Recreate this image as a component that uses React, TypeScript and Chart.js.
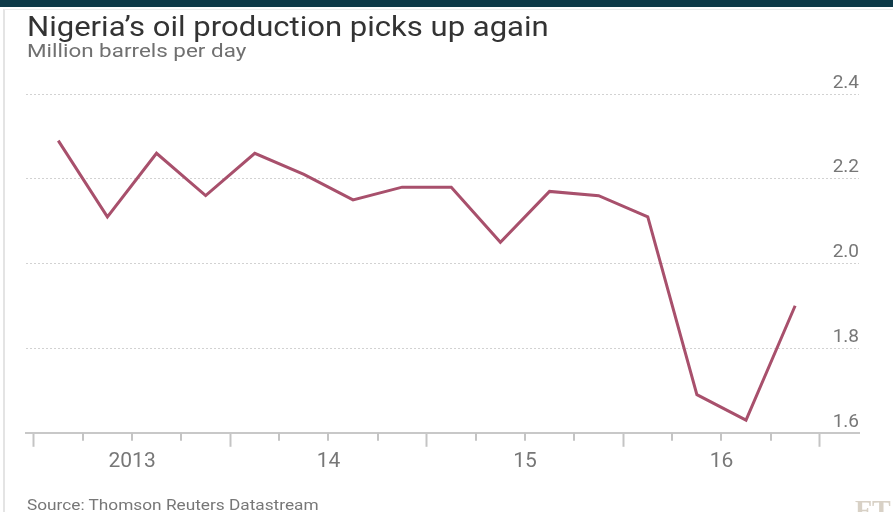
import React, { useEffect, useRef } from "react";
import { Chart, registerables } from "chart.js";

Chart.register(...registerables);

// ---- Data ----
const quarters = [
  "2013 Q1", "2013 Q2", "2013 Q3", "2013 Q4",
  "2014 Q1", "2014 Q2", "2014 Q3", "2014 Q4",
  "2015 Q1", "2015 Q2", "2015 Q3", "2015 Q4",
  "2016 Q1", "2016 Q2", "2016 Q3", "2016 Q4",
];
const production = [
  2.29, 2.11, 2.26, 2.16,
  2.26, 2.21, 2.15, 2.18,
  2.18, 2.05, 2.17, 2.16,
  2.11, 1.69, 1.63, 1.90,
];
const yearLabels = ["2013", "14", "15", "16"];
const yTickValues = [1.6, 1.8, 2.0, 2.2, 2.4];
const quarterBoundaries = [0, 1, 2, 3, 4, 5, 6, 7, 8, 9, 10, 11, 12, 13, 14, 15, 16];

const TITLE = "Nigeria\u2019s oil production picks up again";
const SUBTITLE = "Million barrels per day";
const SOURCE = "Source: Thomson Reuters Datastream";

const shortTicksPlugin = {
  id: "shortQuarterTicks",
  afterDraw(chart: any) {
    const xs = chart.scales.x;
    const ctx = chart.ctx;
    const top = chart.chartArea.bottom;
    ctx.save();
    ctx.strokeStyle = "#c4c4c4";
    ctx.lineWidth = 2;
    quarterBoundaries.forEach((q) => {
      if (q % 4 === 0) return;
      const px = Math.round(xs.getPixelForValue(q));
      ctx.beginPath();
      ctx.moveTo(px, top);
      ctx.lineTo(px, top + 8);
      ctx.stroke();
    });
    ctx.restore();
  },
};

export default function App() {
  const canvasRef = useRef<HTMLCanvasElement | null>(null);

  useEffect(() => {
    if (!canvasRef.current) return;
    const chart = new Chart(canvasRef.current, {
      type: "line",
      data: {
        labels: quarters,
        datasets: [
          {
            label: "Oil production",
            data: production.map((v, i) => ({ x: i + 0.5, y: v })),
            borderColor: "#a8506c",
            borderWidth: 3,
            pointRadius: 0,
            tension: 0,
            fill: false,
          },
        ],
      },
      options: {
        responsive: false,
        animation: false,
        events: [],
        layout: { padding: { left: 26, right: 34, top: 94, bottom: 36 } },
        plugins: {
          legend: { display: false },
          tooltip: { enabled: false },
          title: { display: false },
        },
        scales: {
          x: {
            type: "linear",
            min: -0.157,
            max: 16.8,
            afterBuildTicks: (scale: any) => {
              scale.ticks = quarterBoundaries.map((v) => ({ value: v }));
            },
            grid: {
              drawOnChartArea: false,
              drawTicks: true,
              tickLength: 14,
              tickWidth: 2,
              tickColor: (ctx: any) =>
                ctx.tick && ctx.tick.value % 4 === 0 ? "#c4c4c4" : "rgba(0,0,0,0)",
            },
            border: { display: true, color: "#c8c8c8", width: 2 },
            ticks: {
              autoSkip: false,
              maxRotation: 0,
              minRotation: 0,
              padding: 2,
              labelOffset: 98.4,
              color: "#777777",
              font: { family: "Roboto", size: 21 },
              callback: (value: any) => {
                const v = Number(value);
                const idx = v / 4;
                return v % 4 === 0 && idx < yearLabels.length ? yearLabels[idx] : "";
              },
            },
          },
          y: {
            type: "linear",
            position: "right",
            min: 1.6,
            max: 2.4,
            afterBuildTicks: (scale: any) => {
              scale.ticks = yTickValues.map((v) => ({ value: v }));
            },
            grid: {
              drawTicks: false,
              color: "#d2d2d2",
              lineWidth: 1,
            },
            border: { display: false, dash: [2, 2] },
            ticks: {
              mirror: true,
              padding: 0,
              labelOffset: -11,
              color: "#777777",
              font: { family: "Roboto", size: 19 },
              callback: (value: any) => Number(value).toFixed(1),
            },
          },
        },
      },
      plugins: [shortTicksPlugin],
    } as any);
    return () => chart.destroy();
  }, []);

  const stretched = (extra: React.CSSProperties, sx: number): React.CSSProperties => ({
    position: "absolute",
    whiteSpace: "nowrap",
    fontFamily: "Roboto",
    transform: `scaleX(${sx})`,
    transformOrigin: "0 0",
    ...extra,
  });

  return (
    <div
      style={{
        position: "absolute",
        left: 0,
        top: 0,
        width: 893,
        height: 512,
        overflow: "hidden",
        background: "#ffffff",
      }}
    >
      <div style={{ position: "absolute", left: 0, top: 0, width: 893, height: 7, background: "#0e3a48" }} />
      <div
        style={{
          position: "absolute",
          left: 3,
          top: 9,
          width: 900,
          height: 520,
          borderLeft: "2px solid #e4e4e4",
          borderTop: "1px solid #ececec",
        }}
      />
      <canvas
        ref={canvasRef}
        width={893}
        height={512}
        style={{ position: "absolute", left: 0, top: 0, width: 893, height: 512 }}
      />
      <div
        style={stretched(
          { left: 27, top: 14, fontSize: 27, lineHeight: "27px", color: "#333333" },
          1.15
        )}
      >
        {TITLE}
      </div>
      <div
        style={stretched(
          { left: 27, top: 41, fontSize: 19, lineHeight: "19px", color: "#707070" },
          1.18
        )}
      >
        {SUBTITLE}
      </div>
      <div
        style={stretched(
          { left: 27, top: 498, fontSize: 15, lineHeight: "15px", color: "#777777" },
          1.15
        )}
      >
        {SOURCE}
      </div>
      <div
        style={{
          position: "absolute",
          left: 855,
          top: 496,
          fontFamily: "'Liberation Serif', serif",
          fontWeight: "bold",
          fontSize: 28,
          lineHeight: "28px",
          color: "#d8d1c6",
          whiteSpace: "nowrap",
        }}
      >
        FT
      </div>
    </div>
  );
}
